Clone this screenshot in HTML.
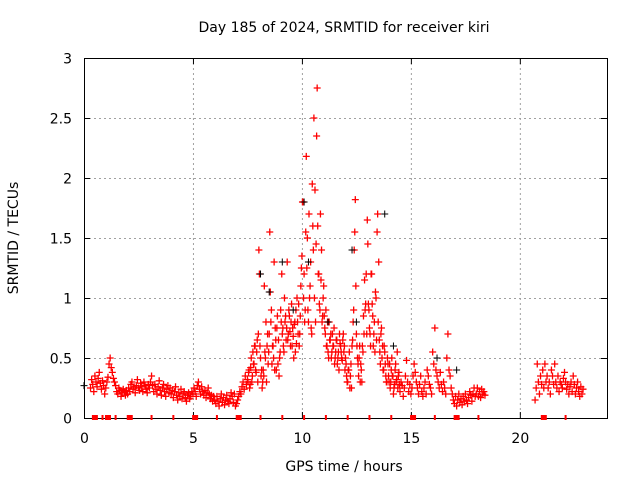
<!DOCTYPE html>
<html><head><meta charset="utf-8"><style>
body{margin:0;background:#fff}
svg text{font-family:"DejaVu Sans","Liberation Sans",sans-serif;font-size:14px;fill:#000}
</style></head><body>
<svg id="c" width="640" height="480" xmlns="http://www.w3.org/2000/svg"></svg>
<script>
const xTicks=[0,5,10,15,20];
const yTicks=[0,0.5,1,1.5,2,2.5,3];
const yTickLabels=["0","0.5","1","1.5","2","2.5","3"];
// series A: start 0.3h, step 0.05h
const aStart=0.3, aStep=0.05;
const aVals=[.25,.32,.28,.22,.35,.30,.26,.33,.38,.29,.24,.31,.27,.20,
.25,.30,.34,.45,.50,.42,.38,.33,.30,.27,.22,.20,.25,.23,.18,.21,.24,.22,.19,.23,
.20,.25,.22,.28,.30,.24,.26,.21,.27,.32,.25,.23,.29,.26,.22,.30,.27,.24,.21,.28,
.25,.30,.35,.27,.22,.28,.24,.20,.26,.31,.23,.19,.25,.28,.22,.18,.24,.27,.21,.25,
.20,.23,.17,.22,.26,.19,.15,.21,.18,.24,.16,.20,.22,.17,.14,.19,.21,.16,.18,.22,
.20,.25,.22,.18,.27,.30,.24,.20,.26,.22,.19,.23,.17,.21,.25,.20,.16,.19,.14,.18,
.15,.12,.18,.14,.10,.16,.20,.13,.17,.11,.15,.19,.14,.12,.16,.21,.18,.13,.20,.10,
.12,.15,.18,.22,.20,.26,.30,.24,.35,.28,.32,.38,.25,.42,.30,.55,.45,.60,.38,.65,
.70,1.20,.50,.40,.30,.35,.55,.80,.60,.45,.70,1.05,.90,.60,.50,.40,.65,.75,.45,.35,
.55,.80,.70,.60,1.00,.85,.75,.65,.90,.72,.80,.60,.68,.78,.55,.62,.80,.95,.70,1.10,
1.35,1.80,1.20,.90,2.18,1.50,.80,1.00,1.30,.70,1.60,2.50,1.90,1.45,2.75,1.20,.95,1.70,1.40,.85,
1.10,.75,.90,.60,.55,.80,.65,.50,.70,.60,.45,.55,.65,.50,.40,.62,.55,.48,.70,.60,
.50,.35,.30,.40,.25,.45,.60,.80,1.40,1.82,.70,.50,.35,.60,.45,.30,.55,.70,.90,1.20,
1.65,.95,.75,.60,1.20,.85,.70,.55,1.00,1.55,.80,.65,.45,.75,.60,.40,.55,.35,.30,.45,
.30,.25,.40,.35,.20,.28,.45,.32,.25,.38,.22,.30,.27,.18,.25,.35,.48,.30,.22,.28,
.20,.25,.35,.45,.38,.30,.25,.20,.28,.35,.22,.18,.25,.30,.20,.40,.35,.28,.25,.20,
.55,.45,.75,.40,.35,.30,.25,.38,.28,.22,.30,.25,.20,.50,.70,.40,.35,.25,.20,.15,
.12,.18,.10,.15,.20,.13,.16,.11,.18,.14,.20,.15,.12,.17,.22,.19,.14,.20,.25,.18,
.20,.25,.18,.22,.17,.24,.20,.22,.19];
// series B: start 7.5h, step 0.05h
const bStart=7.5, bStep=0.05;
const bVals=[.30,.40,.28,.50,.35,.45,.60,.40,.55,.30,
1.40,.60,.35,.25,.40,1.10,.50,.30,.70,.55,1.55,.80,.45,.60,1.30,.75,.40,.85,.65,.50,
.90,1.20,.75,.55,.80,.65,1.30,.70,.85,.60,.95,.75,.50,.80,.90,1.00,.70,.60,.85,1.25,
1.80,1.00,.80,1.55,1.25,.90,1.70,1.10,.75,1.95,1.40,1.00,.80,2.35,1.60,1.20,.90,1.15,.80,1.00,
.85,.70,.60,.80,.50,.65,.70,.55,.60,.75,.50,.65,.45,.55,.70,.60,.50,.65,.55,.40,
.45,.30,.40,.55,.35,.25,.65,.90,1.55,1.10,.60,.45,.50,.30,.40,.60,.85,1.15,.95,.70,
1.45,.90,.70,1.20,.95,.60,.80,1.05,.65,1.70,1.30,.55,.70,.50,.40,.60,.45,.30,.50,.35,
.45,.30,.50,.35,.25,.40,.30,.55,.35,.28];
// series C: start 20.7h, step 0.05h
const cStart=20.7, cStep=0.05;
const cVals=[.15,.25,.45,.30,.20,.35,.28,.40,.25,.45,.30,.35,.25,.30,.20,.40,.35,.28,.45,.30,.25,.35,.22,.30,.28,.25,.33,.38,.30,.24,.28,.20,.26,.30,.22,.35,.28,.20,.25,.30,.22,.18,.26,.20,.24];
// black series
const kTimes=[0,8.1,8.5,9.1,9.6,10.1,10.3,11.2,12.3,12.5,13.8,14.2,16.2,17.1];
const kVals=[0.27,1.2,1.05,1.3,0.9,1.8,1.3,0.8,1.4,0.8,1.7,0.6,0.5,0.4];
// zero-valued points
const zeroTimes=[0.5,1.1,2.1,5.1,7.1,15.1,17.1,21.1,0.85,1.45,3.1,4.1,6.1,8.1,9.1,10.1,11.1,12.1,13.1,14.1,16.1,18.1,22.1];

const L=84,R=607,T=58,B=418;
const xs=h=>L+h/24*(R-L);
const ys=v=>B-v/3*(B-T);
const NS="http://www.w3.org/2000/svg";
const svg=document.getElementById('c');
function mk(tag,attrs,parent){const e=document.createElementNS(NS,tag);for(const k in attrs)e.setAttribute(k,attrs[k]);(parent||svg).appendChild(e);return e;}

const grid=mk('g',{stroke:'#a0a0a0','stroke-dasharray':'2,3','stroke-width':1});


yTicks.forEach(v=>{if(v>0&&v<3){mk('line',{x1:L,x2:R,y1:ys(v)+.5,y2:ys(v)+.5},grid);}});
xTicks.forEach(h=>{if(h>0){mk('line',{x1:xs(h)+.5,x2:xs(h)+.5,y1:T,y2:B},grid);}});

const ax=mk('g',{stroke:'#000','stroke-width':1});


yTicks.forEach((v,i)=>{const y=ys(v)+.5;mk('line',{x1:L,x2:L+6,y1:y,y2:y},ax);mk('line',{x1:R-6,x2:R,y1:y,y2:y},ax);
const t=mk('text',{x:72,y:y+5,'text-anchor':'end',stroke:'none'});t.textContent=yTickLabels[i];

});
xTicks.forEach(h=>{const x=xs(h)+.5;mk('line',{x1:x,x2:x,y1:B,y2:B-6},ax);mk('line',{x1:x,x2:x,y1:T,y2:T+6},ax);
const t=mk('text',{x:x,y:443,'text-anchor':'middle',stroke:'none'});t.textContent=String(h);

});

function plus(g,x,y){mk('path',{d:`M${x-3.5} ${y}H${x+3.5}M${x} ${y-3.5}V${y+3.5}`},g);}
const red=mk('g',{stroke:'#ff0000','stroke-width':1.3,fill:'none'});


aVals.forEach((v,i)=>plus(red,xs(aStart+i*aStep),ys(v)));
bVals.forEach((v,i)=>plus(red,xs(bStart+i*bStep+0.025),ys(v)));
cVals.forEach((v,i)=>plus(red,xs(cStart+i*cStep),ys(v)));
const blk=mk('g',{stroke:'#000','stroke-width':1});


kTimes.forEach((h,i)=>plus(blk,xs(h),ys(kVals[i])));

mk('rect',{x:L+.5,y:T+.5,width:R-L,height:B-T,fill:'none',stroke:'#000'});

const zg=mk('g',{fill:'#ff0000'});


zeroTimes.forEach((h,i)=>{const w=i<8?6:2;mk('rect',{x:xs(h)-w/2,y:B-3,width:w,height:5},zg);});

const title=mk('text',{x:344,y:32,'text-anchor':'middle'});title.textContent='Day 185 of 2024, SRMTID for receiver kiri';


const xl=mk('text',{x:344,y:471,'text-anchor':'middle'});xl.textContent='GPS time / hours';


const yl=mk('text',{x:18,y:238,'text-anchor':'middle',transform:'rotate(-90 18 238)'});yl.textContent='SRMTID / TECUs';


</script>
</body></html>
